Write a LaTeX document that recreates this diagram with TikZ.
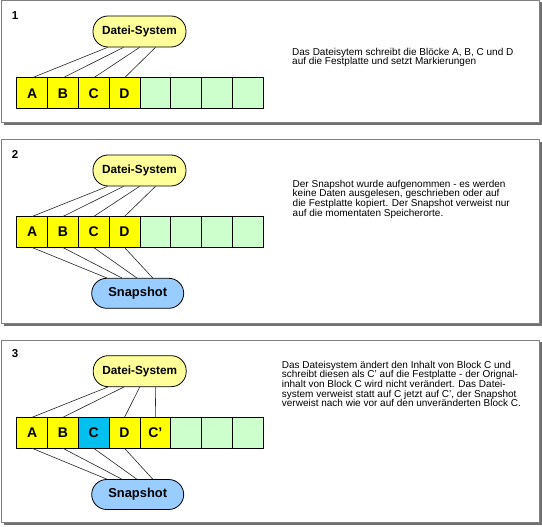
\documentclass[tikz,border=0pt]{standalone}
\usepackage{fontspec}
\setmainfont{Liberation Sans}
\usetikzlibrary{positioning,calc}
\definecolor{blockyellow}{HTML}{FFFF00}
\definecolor{blockblue}{HTML}{00C0F0}
\definecolor{freegreen}{HTML}{CCFFCC}
\definecolor{fsyellow}{HTML}{FFFF99}
\definecolor{snapblue}{HTML}{99CCFF}
\definecolor{panelgray}{HTML}{808080}
\definecolor{shadowgray}{HTML}{707070}
\tikzset{
    every picture/.style={line join=round},
    panel/.style={draw=panelgray,fill=white,line width=1pt},
    panelshadow/.style={fill=shadowgray},
    cell/.style={draw=black,line width=0.8pt,minimum width=30.8pt,minimum height=31pt,
      inner sep=0pt,outer sep=0pt,font=\fontsize{14}{14}\selectfont\bfseries},
    used/.style={fill=blockyellow},
    kept/.style={fill=blockblue},
    free/.style={fill=freegreen},
    fsnode/.style={draw=black,fill=fsyellow,line width=0.8pt,rounded corners=15pt,
      minimum width=93pt,minimum height=31pt,inner sep=0pt,
      font=\fontsize{11.8}{12}\selectfont\bfseries},
    snapnode/.style={draw=black,fill=snapblue,line width=0.8pt,rounded corners=15pt,
      minimum width=92pt,minimum height=30pt,inner sep=0pt,
      font=\fontsize{12.9}{13}\selectfont\bfseries},
    link/.style={draw=black!85,line width=0.6pt},
    stepno/.style={inner sep=0pt,font=\fontsize{11.5}{11.5}\selectfont\bfseries},
    desc/.style={anchor=base west,align=left,inner sep=0pt,
      font=\fontsize{10}{9.6}\selectfont}
}
\begin{document}
\begin{tikzpicture}[x=1pt,y=-1pt]
  \useasboundingbox (0,0) rectangle (542,527);
  % the three frames
  \foreach \ya/\yb in {0.5/123,140/323.5,340/522.5}{
    \fill[panelshadow] (3.5,\ya+2) rectangle (541.5,\yb+2);
    \draw[panel] (1.5,\ya) rectangle (539.5,\yb);
  }

  % step 1
  \node[stepno] (n1) at (15,15.5) {1};
  \node[fsnode] (fs1) at (139.5,31.5) {Datei-System};
  \node[cell,used] (a1) at (32.1,93.3) {A};
  \node[cell,used,right=0pt of a1] (b1) {B};
  \node[cell,used,right=0pt of b1] (c1) {C};
  \node[cell,used,right=0pt of c1] (d1) {D};
  \foreach \i in {1,...,4}
    \node[cell,free] (e1\i) at ($(d1)+(30.8*\i,0)$) {};
  \foreach \n/\dx in {a/-32,b/-16,c/0,d/16}
    \draw[link] ($(fs1.south)+(\dx,0)$) -- (\n1.north);
  \node[desc] (t1) at (292,65) {Das Dateisytem schreibt die Blöcke A, B, C und D\\
    auf die Festplatte und setzt Markierungen};

  % step 2
  \node[stepno] (n2) at (15,154.5) {2};
  \node[fsnode] (fs2) at (139.5,170.5) {Datei-System};
  \node[cell,used] (a2) at (32.1,232) {A};
  \node[cell,used,right=0pt of a2] (b2) {B};
  \node[cell,used,right=0pt of b2] (c2) {C};
  \node[cell,used,right=0pt of c2] (d2) {D};
  \foreach \i in {1,...,4}
    \node[cell,free] (e2\i) at ($(d2)+(30.8*\i,0)$) {};
  \node[snapnode] (sn2) at (137.7,293.3) {Snapshot};
  \foreach \n/\dx/\sx in {a/-32/-31,b/-16/-16,c/0/-1,d/16/15}{
    \draw[link] ($(fs2.south)+(\dx,0)$) -- (\n2.north);
    \draw[link] (\n2.south) -- ($(sn2.north)+(\sx,0)$);
  }
  \node[desc] (t2) at (292.5,216) {Der Snapshot wurde aufgenommen - es werden\\
    keine Daten ausgelesen, geschrieben oder auf\\
    die Festplatte kopiert. Der Snapshot verweist nur\\
    auf die momentaten Speicherorte.};

  % step 3
  \node[stepno] (n3) at (15,354) {3};
  \node[fsnode] (fs3) at (139.7,371.2) {Datei-System};
  \node[cell,used] (a3) at (32.1,432.8) {A};
  \node[cell,used,right=0pt of a3] (b3) {B};
  \node[cell,kept,right=0pt of b3] (c3) {C};
  \node[cell,used,right=0pt of c3] (d3) {D};
  \node[cell,used,right=0pt of d3] (cc3) {C’};
  \foreach \i in {1,...,3}
    \node[cell,free] (e3\i) at ($(cc3)+(30.8*\i,0)$) {};
  \node[snapnode] (sn3) at (137.7,494.5) {Snapshot};
  \foreach \n/\dx in {a/-32,b/-16,d/0,cc/16}
    \draw[link] ($(fs3.south)+(\dx,0)$) -- (\n3.north);
  \foreach \n/\sx in {a/-31,b/-16,c/-1,d/15}
    \draw[link] (\n3.south) -- ($(sn3.north)+(\sx,0)$);
  \node[desc] (t3) at (281.7,406.7) {Das Dateisystem ändert den Inhalt von Block C und\\
    schreibt diesen als C’ auf die Festplatte - der Orignal-\\
    inhalt von Block C wird nicht verändert. Das Datei-\\
    system verweist statt auf C jetzt auf C’, der Snapshot\\
    verweist nach wie vor auf den unveränderten Block C.};
\end{tikzpicture}
\end{document}
